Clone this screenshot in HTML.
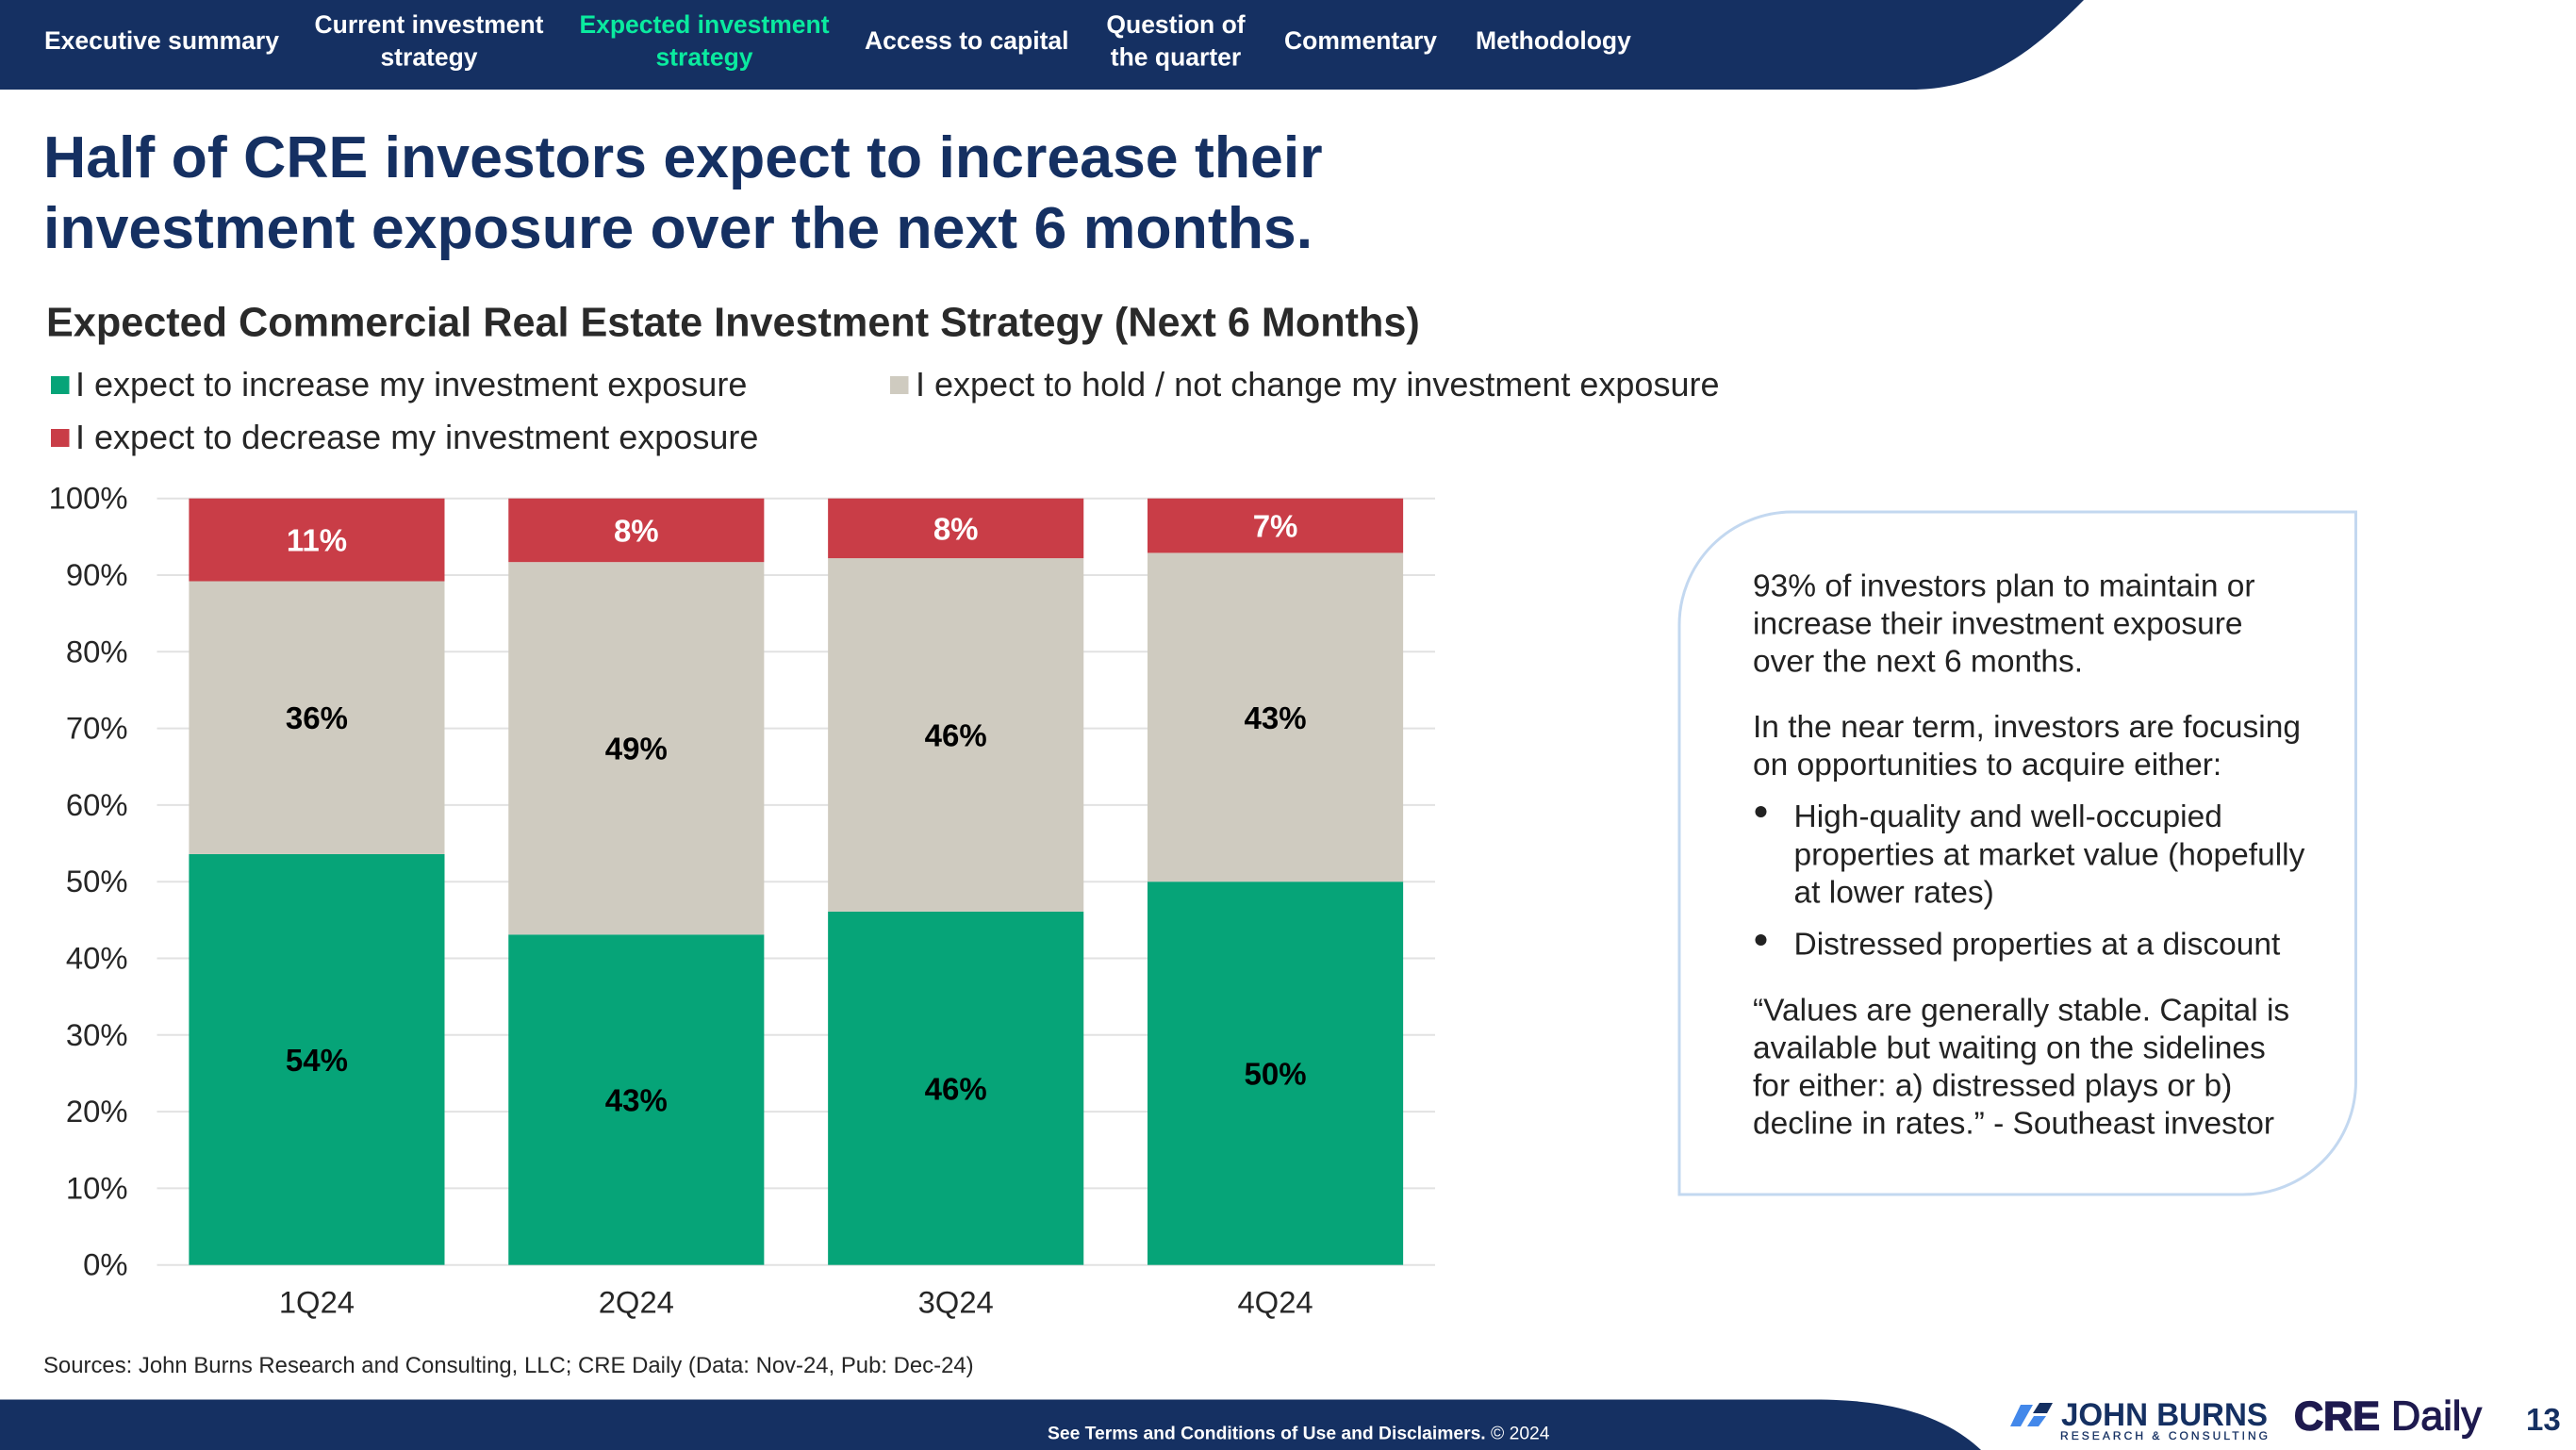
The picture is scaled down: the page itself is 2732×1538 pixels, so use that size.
<!DOCTYPE html>
<html lang="en">
<head>
<meta charset="utf-8">
<title>Expected Commercial Real Estate Investment Strategy</title>
<style>
html,body{margin:0;padding:0;background:#fff;}
body{width:2732px;height:1538px;overflow:hidden;}
svg{display:block;}
text{font-family:"Liberation Sans",Arial,sans-serif;}
.nav{font-size:26.5px;font-weight:700;fill:#fff;}
.nav-active{fill:#0aea9f;}
.body-text{font-size:33.5px;fill:#222;}
.tick{font-size:32.8px;fill:#262626;}
.legend{font-size:36px;fill:#262626;}
.value{font-size:33px;font-weight:700;}
</style>
</head>
<body>
<svg id="slide" xmlns="http://www.w3.org/2000/svg" width="2732" height="1538" viewBox="0 0 2732 1538">
  <rect x="0" y="0" width="2732" height="1538" fill="#ffffff"/>

  <path d="M0 0H2210C2170 40 2115 95 2028 95H0Z" fill="#153062"/>
  <g>
    <text class="nav" x="47" y="52">Executive summary</text>
    <text class="nav" text-anchor="middle" x="455" y="35">Current investment<tspan x="455" y="69.5">strategy</tspan></text>
    <text class="nav nav-active" text-anchor="middle" x="747" y="35">Expected investment<tspan x="747" y="69.5">strategy</tspan></text>
    <text class="nav" x="917" y="52">Access to capital</text>
    <text class="nav" text-anchor="middle" x="1247" y="35">Question of<tspan x="1247" y="69.5">the quarter</tspan></text>
    <text class="nav" x="1362" y="52">Commentary</text>
    <text class="nav" x="1565" y="52">Methodology</text>
  </g>

  <text x="46" y="188" font-size="62.6" font-weight="700" fill="#153062">Half of CRE investors expect to increase their<tspan x="46" y="263">investment exposure over the next 6 months.</tspan></text>

  <text x="49" y="356.5" font-size="43.2" font-weight="700" fill="#2a2a2a">Expected Commercial Real Estate Investment Strategy (Next 6 Months)</text>

  <g>
    <rect x="54" y="399" width="19.5" height="19" fill="#06a478"/>
    <text class="legend" x="80" y="420">I expect to increase my investment exposure</text>
    <rect x="944" y="399" width="19.5" height="19" fill="#cfcbc0"/>
    <text class="legend" x="971" y="420">I expect to hold / not change my investment exposure</text>
    <rect x="54" y="455" width="19.5" height="19" fill="#c93d47"/>
    <text class="legend" x="80" y="476">I expect to decrease my investment exposure</text>
  </g>

  <g id="chart"></g>

  <g>
    <path d="M1900 543H2498.5V1147A120 120 0 0 1 2378.5 1267H1781V663A120 120 0 0 1 1900 543Z" fill="none" stroke="#c3d8f0" stroke-width="3"/>
    <text class="body-text" x="1859" y="632.5">93% of investors plan to maintain or<tspan x="1859" y="672.7">increase their investment exposure</tspan><tspan x="1859" y="712.5">over the next 6 months.</tspan></text>
    <text class="body-text" x="1859" y="782">In the near term, investors are focusing<tspan x="1859" y="822">on opportunities to acquire either:</tspan></text>
    <circle cx="1867.5" cy="861" r="6" fill="#222"/>
    <text class="body-text" x="1902.5" y="877">High-quality and well-occupied<tspan x="1902.5" y="917.5">properties at market value (hopefully</tspan><tspan x="1902.5" y="957.7">at lower rates)</tspan></text>
    <circle cx="1867.5" cy="997" r="6" fill="#222"/>
    <text class="body-text" x="1902.5" y="1012.5">Distressed properties at a discount</text>
    <text class="body-text" x="1859" y="1082.3">“Values are generally stable. Capital is<tspan x="1859" y="1122.3">available but waiting on the sidelines</tspan><tspan x="1859" y="1162.3">for either: a) distressed plays or b)</tspan><tspan x="1859" y="1202.5">decline in rates.” - Southeast investor</tspan></text>
  </g>

  <text x="46" y="1456" font-size="23.9" fill="#262626">Sources: John Burns Research and Consulting, LLC; CRE Daily (Data: Nov-24, Pub: Dec-24)</text>

  <path d="M0 1484.5H1924C1990 1484.5 2055 1495 2101 1538H0Z" fill="#153062"/>
  <text x="1111" y="1526.7" font-size="19.3" font-weight="700" fill="#ffffff">See Terms and Conditions of Use and Disclaimers.<tspan font-weight="400"> © 2024</tspan></text>

  <g>
    <polygon points="2143,1490 2156,1490 2143,1513 2132,1513" fill="#4388ea"/>
    <polygon points="2157,1502 2170,1502 2162,1513 2150,1513" fill="#4388ea"/>
    <polygon points="2163,1488 2177,1488 2171,1499 2156,1499" fill="#153062"/>
    <text x="2186" y="1512" font-size="34" font-weight="700" fill="#153062" textLength="219" lengthAdjust="spacingAndGlyphs">JOHN BURNS</text>
    <text x="2185" y="1527" font-size="12" fill="#153062" stroke="#153062" stroke-width="0.3" textLength="220" lengthAdjust="spacing">RESEARCH &amp; CONSULTING</text>
  </g>
  <g>
    <text x="2433" y="1516.7" font-size="43" font-weight="700" fill="#1e1a4f" stroke="#1e1a4f" stroke-width="1.6" textLength="91" lengthAdjust="spacingAndGlyphs">CRE</text>
    <text x="2536" y="1516.7" font-size="44" fill="#1e1a4f" stroke="#1e1a4f" stroke-width="1.2" textLength="96" lengthAdjust="spacingAndGlyphs">Daily</text>
  </g>
  <text x="2679" y="1517" font-size="33" font-weight="700" fill="#153062">13</text>
</svg>

<script>
const categories = ['1Q24', '2Q24', '3Q24', '4Q24'];
const increaseValues = [53.6, 43.1, 46.1, 50.0];
const holdValues = [35.6, 48.6, 46.1, 42.9];
const decreaseValues = [10.8, 8.3, 7.8, 7.1];
const yTicks = [0, 10, 20, 30, 40, 50, 60, 70, 80, 90, 100];

const NS = 'http://www.w3.org/2000/svg';
const chart = document.getElementById('chart');
const plot = { left: 166.5, right: 1522, top: 528.7, bottom: 1341.7 };
const barFraction = 0.8;

function yScale(v) {
  return plot.bottom - (v / 100) * (plot.bottom - plot.top);
}
function bandWidth() {
  return (plot.right - plot.left) / categories.length;
}
function xCenter(i) {
  return plot.left + bandWidth() * (i + 0.5);
}

yTicks.forEach(function (t) {
  const line = document.createElementNS(NS, 'line');
  
  
  line.setAttribute('x1', plot.left);
  line.setAttribute('x2', plot.right);
  line.setAttribute('y1', yScale(t));
  line.setAttribute('y2', yScale(t));
  line.setAttribute('stroke', '#e2e2e2');
  line.setAttribute('stroke-width', '2');
  chart.appendChild(line);

  const label = document.createElementNS(NS, 'text');
  
  
  label.setAttribute('class', 'tick');
  label.setAttribute('x', 135.5);
  label.setAttribute('y', yScale(t) + 11);
  label.setAttribute('text-anchor', 'end');
  label.textContent = t + '%';
  chart.appendChild(label);
});

const seriesList = [
  { key: 'increase', values: increaseValues, fill: '#06a478', text: '#000000' },
  { key: 'hold', values: holdValues, fill: '#cfcbc0', text: '#000000' },
  { key: 'decrease', values: decreaseValues, fill: '#c93d47', text: '#ffffff' }
];

categories.forEach(function (cat, i) {
  const w = bandWidth() * barFraction;
  const x = xCenter(i) - w / 2;
  let base = 0;
  seriesList.forEach(function (s) {
    const v = s.values[i];
    const y0 = yScale(base);
    const y1 = yScale(base + v);

    const rect = document.createElementNS(NS, 'rect');
    
    
    rect.setAttribute('x', x);
    rect.setAttribute('y', y1);
    rect.setAttribute('width', w);
    rect.setAttribute('height', y0 - y1);
    rect.setAttribute('fill', s.fill);
    chart.appendChild(rect);

    const val = document.createElementNS(NS, 'text');
    
    
    val.setAttribute('class', 'value');
    val.setAttribute('x', xCenter(i));
    val.setAttribute('y', (y0 + y1) / 2 + 12);
    val.setAttribute('text-anchor', 'middle');
    val.setAttribute('fill', s.text);
    val.textContent = Math.round(v) + '%';
    chart.appendChild(val);

    base += v;
  });

  const xLabel = document.createElementNS(NS, 'text');
  
  
  xLabel.setAttribute('class', 'tick');
  xLabel.setAttribute('x', xCenter(i));
  xLabel.setAttribute('y', 1392.7);
  xLabel.setAttribute('text-anchor', 'middle');
  xLabel.textContent = cat;
  chart.appendChild(xLabel);
});
</script>
</body>
</html>
